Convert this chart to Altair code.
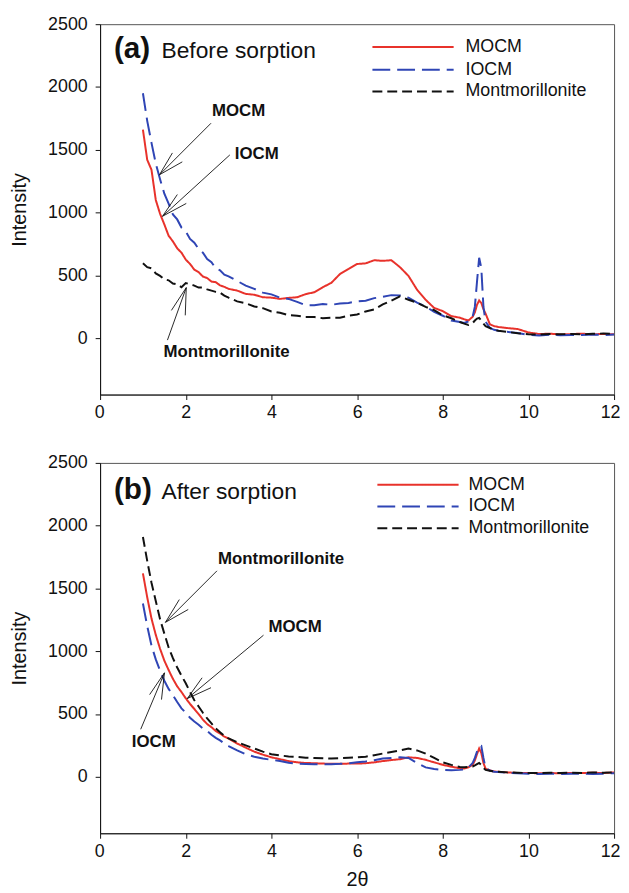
import altair as alt
import pandas as pd

# ---------------- data ----------------
X = [1.0, 1.1, 1.2, 1.3, 1.4, 1.5, 1.6, 1.7, 1.8, 1.9, 2.0, 2.1, 2.2, 2.3, 2.4, 2.5, 2.6, 2.7, 2.8, 2.9, 3.0,
     3.2, 3.4, 3.6, 3.8, 4.0, 4.2, 4.4, 4.6, 4.8, 5.0, 5.2, 5.4, 5.6, 5.8, 6.0, 6.2, 6.4, 6.6, 6.8, 7.0,
     7.2, 7.4, 7.6, 7.8, 8.0, 8.2, 8.4,
     8.5, 8.6, 8.7, 8.75, 8.8, 8.85, 8.9, 8.95, 9.0, 9.1, 9.2, 9.3,
     9.5, 9.75, 10.0, 10.25, 10.5, 10.75, 11.0, 11.25, 11.5, 11.75, 12.0]

A_MOCM = [1660, 1420, 1340, 1100, 990, 905, 815, 770, 715, 680, 625, 590, 545, 525, 490, 478, 450, 445, 420, 408, 392,
          378, 352, 345, 325, 322, 312, 320, 325, 350, 365, 405, 440, 510, 550, 590, 595, 620, 615, 620, 565,
          495, 385, 305, 240, 215, 175, 162,
          150, 140, 170, 205, 265, 300, 280, 230, 195, 110, 95, 88,
          80, 72, 45, 32, 35, 28, 32, 35, 30, 33, 30]
A_IOCM = [1950, 1730, 1555, 1390, 1265, 1150, 1070, 985, 945, 880, 850, 790, 760, 710, 680, 630, 605, 555, 540, 505, 492,
          455, 418, 392, 362, 348, 322, 312, 288, 262, 262, 272, 265, 275, 280, 292, 298, 318, 328, 342, 340,
          322, 282, 252, 208, 178, 140, 128,
          120, 132, 172, 250, 450, 640, 560, 250, 130, 82, 66, 58,
          50, 40, 25, 20, 26, 22, 25, 24, 28, 24, 28]
A_MONT = [595, 565, 555, 515, 495, 468, 460, 435, 428, 405, 438, 428, 418, 402, 402, 388, 378, 368, 362, 338, 322,
          292, 278, 252, 238, 212, 202, 182, 178, 168, 168, 158, 162, 162, 178, 188, 212, 228, 268, 298, 332,
          305, 282, 248, 222, 182, 158, 128,
          115, 105, 120, 140, 155, 160, 140, 115, 95, 80, 65, 58,
          50, 38, 30, 28, 32, 30, 33, 30, 34, 36, 32]

B_MOCM = [1620, 1430, 1260, 1130, 1020, 925, 850, 780, 720, 675, 625, 580, 540, 500, 455, 420, 395, 365, 345, 320, 305,
          265, 232, 200, 176, 155, 140, 125, 115, 110, 108, 105, 104, 103, 105, 105, 108, 115, 125, 133, 140,
          155, 150, 135, 115, 95, 80, 68,
          65, 75, 95, 130, 180, 225, 190, 110, 65, 50, 42, 40,
          35, 30, 30, 28, 30, 28, 30, 30, 32, 30, 35]
B_IOCM = [1380, 1200, 1045, 935, 845, 765, 700, 650, 595, 545, 510, 470, 440, 415, 385, 365, 335, 310, 290, 265, 245,
          210, 180, 160, 145, 135, 125, 112, 105, 102, 100, 100, 100, 103, 108, 115, 122, 132, 145, 150, 155,
          150, 110, 75, 62, 55, 52, 55,
          58, 75, 110, 150, 200, 240, 245, 150, 70, 50, 40, 38,
          32, 28, 25, 22, 25, 22, 25, 25, 22, 25, 28]
B_MONT = [1910, 1720, 1545, 1400, 1255, 1140, 1030, 945, 870, 805, 745, 675, 610, 560, 510, 465, 425, 385, 355, 325, 305,
          275, 250, 225, 200, 180, 170, 162, 158, 152, 150, 147, 145, 148, 152, 155, 160, 172, 185, 198, 210,
          225, 210, 185, 150, 115, 95, 78,
          75, 78, 82, 90, 100, 110, 95, 70, 55, 48, 42, 40,
          35, 32, 30, 30, 32, 30, 33, 30, 35, 32, 35]

SERIES = ["MOCM", "IOCM", "Montmorillonite"]
X_TICKS = [0, 2, 4, 6, 8, 10, 12]
Y_TICKS = [0, 500, 1000, 1500, 2000, 2500]

# ---------------- styles ----------------
COLORS = ["#e8322b", "#2f45b5", "#111111"]
DASHES = [[1, 0], [18, 7], [10, 5]]
FONT = "Liberation Sans"
W, H = 519, 374


def panel(vals, letter, caption, cap_y, legend_pos, notes, arrows, show_xtitle):
    rows = []
    for name, ys in zip(SERIES, vals):
        for xv, yv in zip(X, ys):
            rows.append({"x": xv, "y": yv, "series": name})
    df = pd.DataFrame(rows)

    lines = alt.Chart(df).mark_line(strokeWidth=2, clip=True).encode(
        x=alt.X("x:Q", scale=alt.Scale(domain=[0, 12], nice=False, zero=False),
                axis=alt.Axis(values=X_TICKS, title="2θ" if show_xtitle else None,
                              labelPadding=4, titlePadding=10, format="d",
                              labelFlush=True, labelFlushOffset=6)),
        y=alt.Y("y:Q", scale=alt.Scale(domain=[-450, 2500], nice=False, zero=False),
                axis=alt.Axis(values=Y_TICKS, title="Intensity", labelPadding=8,
                              titlePadding=18, format="d")),
        color=alt.Color("series:N", scale=alt.Scale(domain=SERIES, range=COLORS), legend=None),
        strokeDash=alt.StrokeDash("series:N", scale=alt.Scale(domain=SERIES, range=DASHES), legend=None),
    )

    layers = [lines]

    one = pd.DataFrame({"k": [0]})
    # panel caption
    layers.append(alt.Chart(one).mark_text(align="left", baseline="alphabetic", font=FONT,
                                           fontSize=30, fontWeight="bold", color="#111").encode(
        x=alt.value(14), y=alt.value(cap_y), text=alt.value(letter)))
    layers.append(alt.Chart(one).mark_text(align="left", baseline="alphabetic", font=FONT,
                                           fontSize=23, color="#111").encode(
        x=alt.value(62), y=alt.value(cap_y), text=alt.value(caption)))

    # legend
    lx0, lx1, ltx, ly = legend_pos
    for i, name in enumerate(SERIES):
        layers.append(alt.Chart(one).mark_rule(strokeWidth=2, strokeDash=DASHES[i], color=COLORS[i]).encode(
            x=alt.value(lx0), x2=alt.value(lx1), y=alt.value(ly[i])))
        layers.append(alt.Chart(one).mark_text(align="left", baseline="middle", font=FONT,
                                               fontSize=18, color="#111").encode(
            x=alt.value(ltx), y=alt.value(ly[i]), text=alt.value(name)))

    # annotations
    for txt, tx, ty in notes:
        layers.append(alt.Chart(one).mark_text(align="left", baseline="middle", font=FONT,
                                               fontSize=17, fontWeight="bold", color="#111").encode(
            x=alt.value(tx), y=alt.value(ty), text=alt.value(txt)))
    for (sx, sy, tx, ty, h1x, h1y, h2x, h2y) in arrows:
        for (ax, ay) in [(sx, sy), (h1x, h1y), (h2x, h2y)]:
            layers.append(alt.Chart(one).mark_rule(strokeWidth=0.9, color="#111").encode(
                x=alt.value(ax), y=alt.value(ay), x2=alt.value(tx), y2=alt.value(ty)))

    return alt.layer(*layers).properties(width=W, height=H)


panel_a = panel(
    [A_MOCM, A_IOCM, A_MONT], "(a)", "Before sorption", 34,
    (275, 357, 369, [23, 46, 68]),
    [("MOCM", 113, 88), ("IOCM", 136, 131), ("Montmorillonite", 64, 331)],
    [(112, 100, 60, 152, 73, 130, 83, 139),
     (131, 132, 63, 194, 78, 172, 87, 181),
     (68, 319, 87, 266, 72, 289, 86, 294)],
    False,
)

panel_b = panel(
    [B_MOCM, B_IOCM, B_MONT], "(b)", "After sorption", 36,
    (280, 362, 372, [22, 44, 66]),
    [("Montmorillonite", 119, 97), ("MOCM", 170, 166), ("IOCM", 32, 282)],
    [(118, 109, 66, 161, 80, 138, 89, 148),
     (165, 174, 88, 238, 103, 217, 112, 227),
     (41, 269, 65, 212, 50, 234, 62, 239)],
    True,
)

chart = alt.vconcat(panel_a, panel_b, spacing=69, bounds="flush").properties(
    padding={"left": 1, "top": 2, "right": 0, "bottom": 2}
).configure_view(
    stroke="#555", strokeWidth=1
).configure_axis(
    labelFont=FONT, labelFontSize=18, labelColor="#111",
    titleFont=FONT, titleFontSize=20, titleFontWeight="normal", titleColor="#111",
    tickSize=5, tickColor="#111", domainColor="#111", grid=False,
)

chart.save("out.html", embed_options={"renderer": "svg", "actions": False})
